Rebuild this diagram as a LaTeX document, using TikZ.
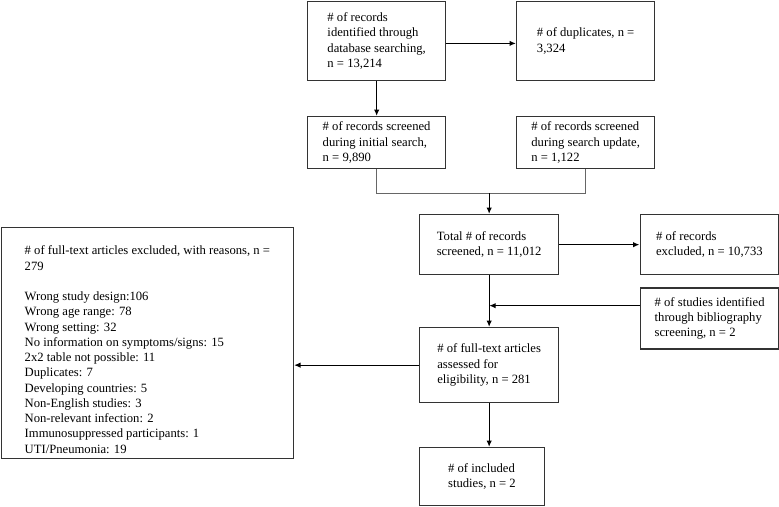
\documentclass[tikz,border=0pt]{standalone}
\usepackage{fontspec}
\setmainfont{Liberation Serif}
\usetikzlibrary{positioning,arrows.meta,calc}
\newcommand{\boxfont}{\fontsize{12.65pt}{15.25pt}\selectfont}
\tikzset{
  box/.style={draw=black!80, line width=1.3pt, align=left, anchor=north west, inner sep=0pt, font=\boxfont},
  joinline/.style={draw=black!60, line width=0.9pt},
}

\begin{document}
\begin{tikzpicture}[x=1pt,y=-1pt,>={Latex[length=6.5pt,width=5.5pt]}]
\useasboundingbox (0,0) rectangle (779,506);

% identification
\node[box, minimum width=138pt, minimum height=78.5pt] (ident) at (307,1) {\# of records\\identified through\\database searching,\\n = 13,214};
\node[box, minimum width=138pt, minimum height=78.5pt] (dup) at (516,1) {\# of duplicates, n =\\3,324};

% screening
\node[box, minimum width=138pt, minimum height=52pt] (initial) at (307,116) {\# of records screened\\during initial search,\\n = 9,890};
\node[box, minimum width=138pt, minimum height=52pt] (update) at (516,116) {\# of records screened\\during search update,\\n = 1,122};
\node[box, minimum width=139pt, minimum height=60pt] (total) at (419,214) {Total \# of records\\screened, n = 11,012};
\node[box, minimum width=138.5pt, minimum height=60pt] (excl) at (639.5,214) {\# of records\\excluded, n = 10,733};

% eligibility
\node[box, minimum width=138pt, minimum height=61pt] (bib) at (640,287.3) {\# of studies identified\\through bibliography\\screening, n = 2};
\node[box, minimum width=139pt, minimum height=75pt] (full) at (419,327) {\# of full-text articles\\assessed for\\eligibility, n = 281};
\node[box, minimum width=292pt] (reasons) at (0.7,226.7) {\rule{0pt}{27.6pt}\# of full-text articles excluded, with reasons, n =\\279\\[15.25pt]Wrong study design:106\\Wrong age range: 78\\Wrong setting: 32\\No information on symptoms/signs: 15\\2x2 table not possible: 11\\Duplicates: 7\\Developing countries: 5\\Non-English studies: 3\\Non-relevant infection: 2\\Immunosuppressed participants: 1\\UTI/Pneumonia: 19\rule[-5.2pt]{0pt}{5.2pt}};

% included
\node[box, minimum width=124.5pt, minimum height=58pt] (incl) at (419,447) {\# of included\\studies, n = 2};

\draw[line width=1.3pt,->] ([yshift=-2.5pt]ident.east) -- ([yshift=-2.5pt]dup.west);
\draw[line width=1.3pt,->] (ident.south) -- (initial.north);

\draw[joinline] (initial.south) -- ++(0,24) coordinate (mergeL) -| (update.south);
\draw[line width=1.3pt,->] (mergeL -| total.north) -- (total.north);

\draw[line width=1.3pt,->] (total.east) -- (excl.west);
\draw[line width=1.3pt,->] (total.south) -- (full.north);

\path ([yshift=12.8pt]bib.west) coordinate (bibL);
\draw[line width=1.3pt,->] (bibL) -- (bibL -| total.south);

\draw[line width=1.3pt,->] (full.west) -- (full.west -| reasons.east);
\draw[line width=1.3pt,->] (full.south) -- (full.south |- incl.north);

\end{tikzpicture}
\end{document}
